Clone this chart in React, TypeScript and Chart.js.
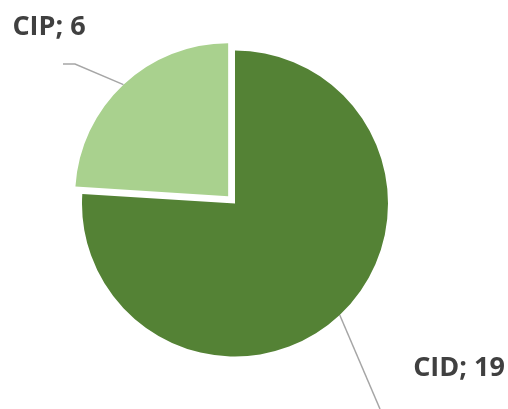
import React, { useEffect, useRef } from "react";
import { Chart, registerables } from "chart.js";

Chart.register(...registerables);

const categories = ["CID", "CIP"];
const values = [19, 6];
const colors = ["#548235", "#A9D18E"];
// Chart.js translates an arc by offset / 4
const offsets = [0, 40];

// label anchor (text center) and leader-line elbow per slice
const labelAnchors = [
  { x: 459, y: 368, elbow: { x: 380, y: 409 }, end: { x: 380, y: 409 } },
  { x: 49, y: 27, elbow: { x: 75, y: 64 }, end: { x: 63, y: 64 } },
];

const leaderPlugin = {
  id: "leaders",
  afterDatasetsDraw(chart: any) {
    const ctx = chart.ctx;
    const meta = chart.getDatasetMeta(0);
    ctx.save();
    meta.data.forEach((arc: any, i: number) => {
      const p = arc.getProps(["x", "y", "startAngle", "endAngle", "outerRadius"], true);
      const mid = (p.startAngle + p.endAngle) / 2;
      const off = (offsets[i] || 0) / 4;
      const cx = p.x + Math.cos(mid) * off;
      const cy = p.y + Math.sin(mid) * off;
      const sx = cx + Math.cos(mid) * p.outerRadius;
      const sy = cy + Math.sin(mid) * p.outerRadius;
      const a = labelAnchors[i];
      ctx.strokeStyle = "#A6A6A6";
      ctx.lineWidth = 1.5;
      ctx.beginPath();
      ctx.moveTo(sx, sy);
      ctx.lineTo(a.elbow.x, a.elbow.y);
      ctx.lineTo(a.end.x, a.end.y);
      ctx.stroke();
      ctx.fillStyle = "#404040";
      ctx.font = "bold 27px 'Open Sans'";
      ctx.textAlign = "center";
      ctx.textBaseline = "middle";
      ctx.fillText(`${categories[i]}; ${values[i]}`, a.x, a.y);
    });
    ctx.restore();
  },
};

export default function App() {
  const ref = useRef<HTMLCanvasElement | null>(null);
  useEffect(() => {
    document.body.style.margin = "0";
    const chart = new Chart(ref.current as HTMLCanvasElement, {
      type: "pie",
      data: {
        labels: categories,
        datasets: [
          {
            data: values,
            backgroundColor: colors,
            borderWidth: 0,
            offset: offsets,
          },
        ],
      },
      options: {
        animation: false,
        responsive: false,
        radius: 153,
        layout: { padding: { left: 0, right: 38, top: 0, bottom: 2 } },
        plugins: { legend: { display: false }, tooltip: { enabled: false } },
      } as any,
      plugins: [leaderPlugin],
    });
    return () => chart.destroy();
  }, []);
  return (
    <div style={{ position: "absolute", left: 0, top: 0, width: 508, height: 409, background: "#fff" }}>
      <canvas ref={ref} width={508} height={409} />
    </div>
  );
}
